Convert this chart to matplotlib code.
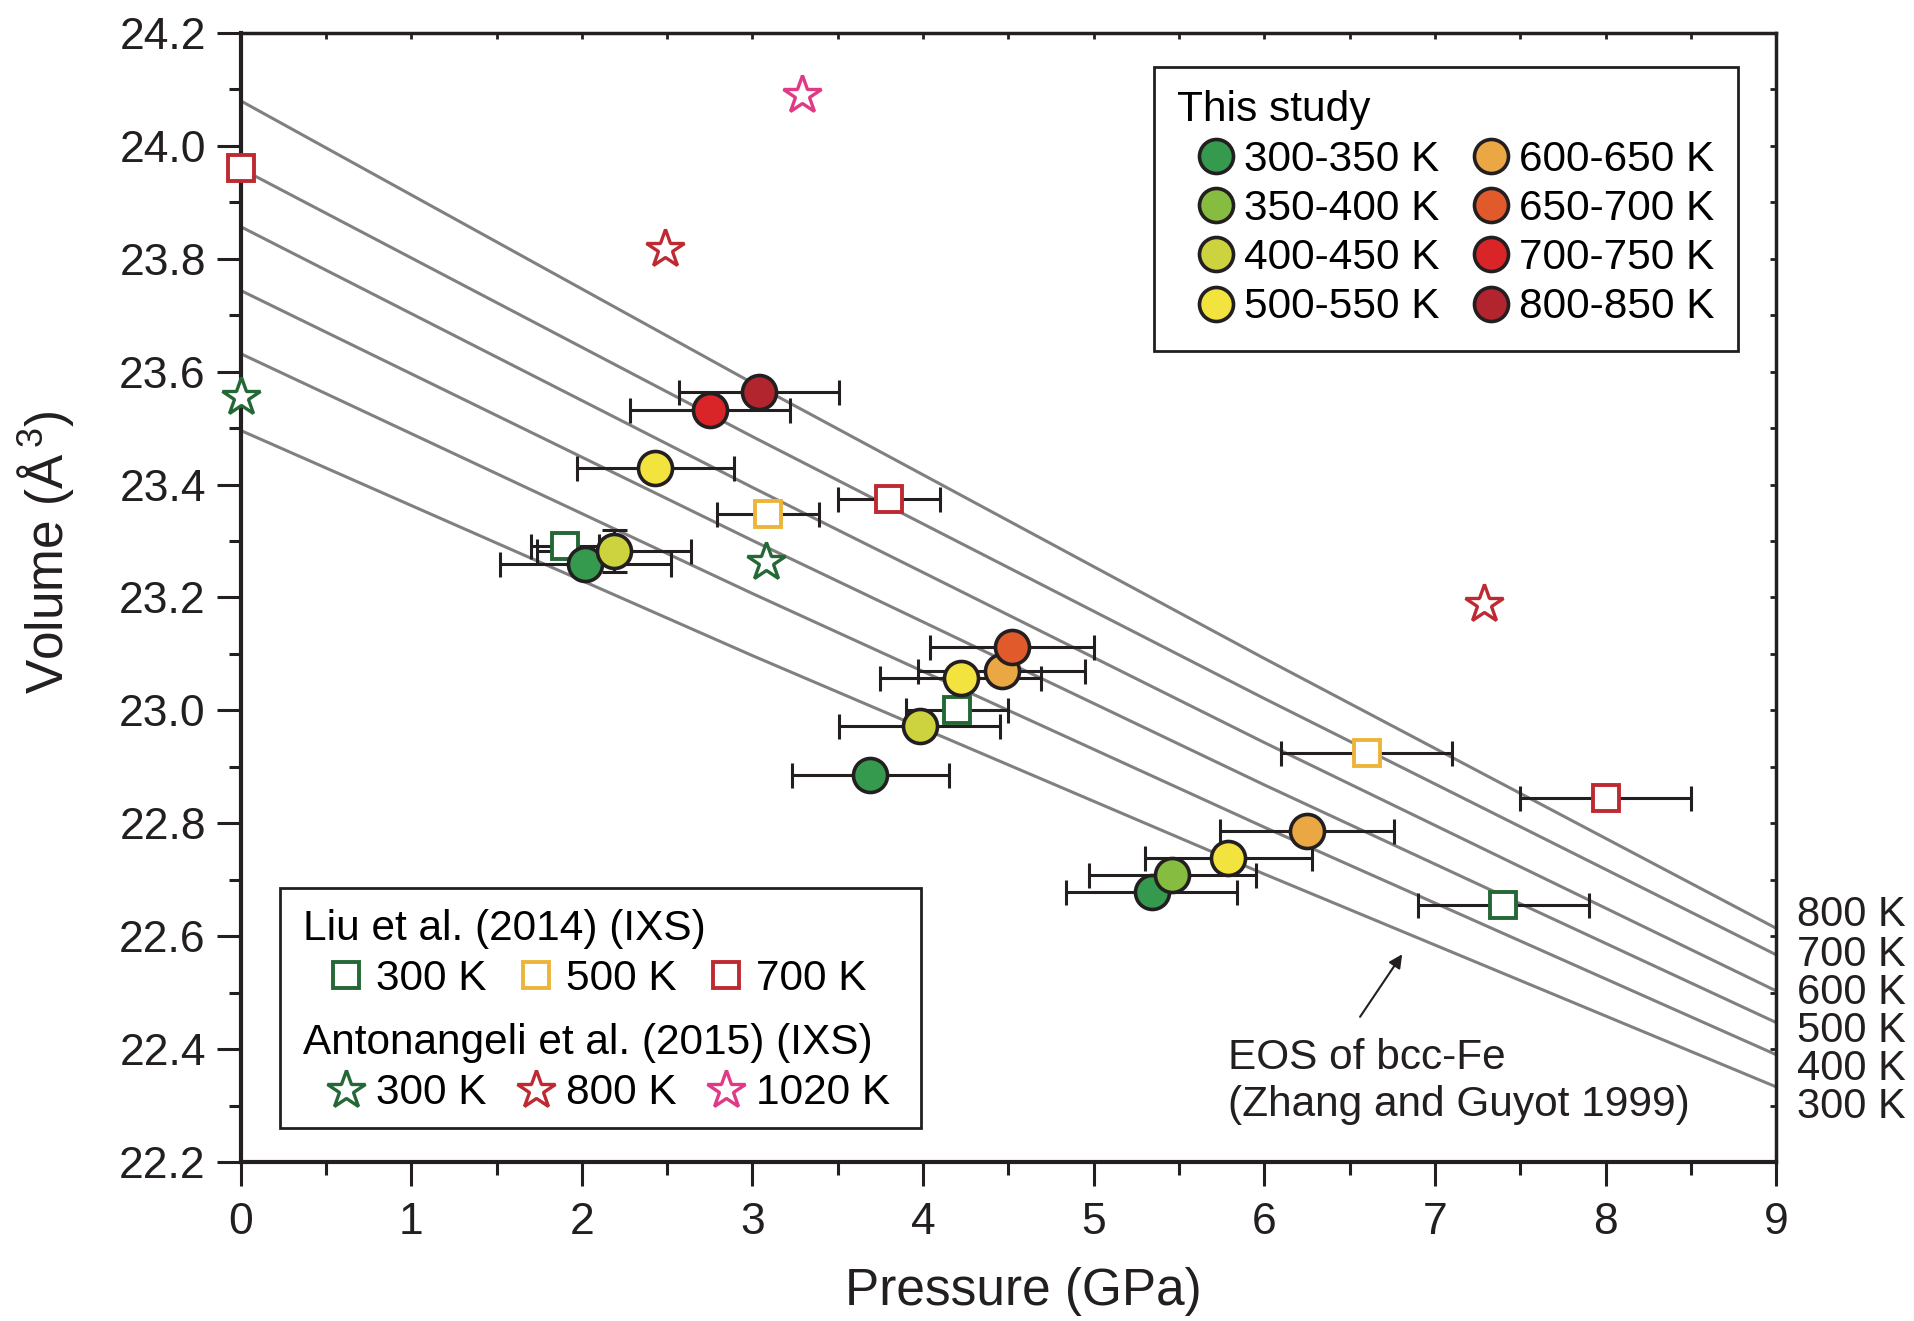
"""Volume vs pressure of bcc-Fe: this study, Liu et al. (2014), Antonangeli et al. (2015)."""

import matplotlib

matplotlib.use("Agg")
import matplotlib.pyplot as plt
from matplotlib.lines import Line2D
from matplotlib.patches import Rectangle
from matplotlib.ticker import FormatStrFormatter, MultipleLocator

plt.rcParams["font.family"] = ["Liberation Sans", "DejaVu Sans"]
plt.rcParams["mathtext.fontset"] = "custom"
plt.rcParams["mathtext.rm"] = "Liberation Sans"

INK = "#231f20"
FS = 30.5

# EOS curves of bcc-Fe (Zhang and Guyot 1999)
eos_p = [0, 3, 6, 9]
eos_labels = ["800 K", "700 K", "600 K", "500 K", "400 K", "300 K"]
eos_v800 = [24.080, 23.580, 23.092, 22.614]
eos_v700 = [23.960, 23.485, 23.021, 22.567]
eos_v600 = [23.857, 23.395, 22.943, 22.503]
eos_v500 = [23.744, 23.301, 22.868, 22.447]
eos_v400 = [23.632, 23.207, 22.793, 22.390]
eos_v300 = [23.496, 23.097, 22.710, 22.333]
eos_label_v = [22.638, 22.567, 22.500, 22.432, 22.365, 22.298]

# This study
ts_labels = ["300-350 K", "350-400 K", "400-450 K", "500-550 K",
             "600-650 K", "650-700 K", "700-750 K", "800-850 K"]
ts_colors = ["#359a4d", "#86bc40", "#cdd33e", "#f2e33f",
             "#eba744", "#e05a2b", "#d92528", "#b2252f"]
ts_p = [[2.02, 3.69, 5.34], [5.46], [2.19, 3.98], [2.43, 4.22, 5.79],
        [4.46, 6.25], [4.52], [2.75], [3.04]]
ts_v = [[23.260, 22.885, 22.678], [22.708], [23.283, 22.972], [23.430, 23.058, 22.738],
        [23.069, 22.786], [23.112], [23.532], [23.564]]
ts_perr = [[0.50, 0.46, 0.50], [0.49], [0.45, 0.47], [0.46, 0.47, 0.49],
           [0.49, 0.51], [0.48], [0.47], [0.47]]
ts_verr = [[0, 0, 0], [0], [0.037, 0], [0, 0, 0], [0, 0], [0], [0], [0]]

# Liu et al. (2014)
liu_labels = ["300 K", "500 K", "700 K"]
liu_colors = ["#246836", "#ecb43a", "#be2a32"]
liu_p = [[1.90, 4.20, 7.40], [3.09, 6.60], [0.0, 3.80, 8.00]]
liu_v = [[23.292, 23.000, 22.656], [23.348, 22.924], [23.960, 23.374, 22.844]]
liu_perr = [[0.20, 0.30, 0.50], [0.30, 0.50], [0.0, 0.30, 0.50]]

# Antonangeli et al. (2015)
ant_labels = ["300 K", "800 K", "1020 K"]
ant_colors = ["#246836", "#be2a32", "#e03a86"]
ant_p = [[0.0, 3.08], [2.49, 7.29], [3.29]]
ant_v = [[23.556, 23.262], [23.817, 23.188], [24.090]]

fig = plt.figure(figsize=(19.14, 13.21), dpi=100)
ax = fig.add_axes([0.1257, 0.1204, 0.8023, 0.8546])

for vals in [eos_v800, eos_v700, eos_v600, eos_v500, eos_v400, eos_v300]:
    ax.plot(eos_p, vals, color="#808080", lw=2.2, zorder=1)

err_kw = dict(fmt="none", ecolor=INK, elinewidth=2.2, capsize=9, capthick=2.2, zorder=2)
circ_kw = dict(ls="none", marker="o", ms=24.5, mec=INK, mew=2.6)
sq_kw = dict(ls="none", marker="s", ms=19, mfc="white", mew=2.8)
star_kw = dict(ls="none", marker="*", ms=29, mfc="white", mew=2.4)

for p, v, pe, ve, c in zip(ts_p, ts_v, ts_perr, ts_verr, ts_colors):
    ax.errorbar(p, v, xerr=pe, yerr=ve, **err_kw)
    ax.plot(p, v, mfc=c, zorder=4, **circ_kw)

for p, v, pe, c in zip(liu_p, liu_v, liu_perr, liu_colors):
    ax.errorbar(p, v, xerr=pe, **err_kw)
    ax.plot(p, v, mec=c, zorder=3, clip_on=False, **sq_kw)

for p, v, c in zip(ant_p, ant_v, ant_colors):
    ax.plot(p, v, mec=c, zorder=3, clip_on=False, **star_kw)

# temperature labels of the EOS curves, right of the frame
for lab, y in zip(eos_labels, eos_label_v):
    ax.text(9.12, y, lab, fontsize=30, ha="left", va="center", color=INK, clip_on=False)

ax.annotate("", xy=(6.817, 22.572), xytext=(6.552, 22.453),
            arrowprops=dict(arrowstyle="-|>", color=INK, lw=1.5, mutation_scale=20))
ax.text(5.79, 22.343, "EOS of bcc-Fe\n(Zhang and Guyot 1999)", fontsize=FS,
        ha="left", va="center", linespacing=1.22, color=INK)

ax.set_xlim(0, 9)
ax.set_ylim(22.2, 24.2)
ax.xaxis.set_major_locator(MultipleLocator(1))
ax.xaxis.set_minor_locator(MultipleLocator(0.5))
ax.yaxis.set_major_locator(MultipleLocator(0.2))
ax.yaxis.set_minor_locator(MultipleLocator(0.1))
ax.yaxis.set_major_formatter(FormatStrFormatter("%.1f"))
ax.tick_params(which="major", direction="out", length=17, width=2.2, labelsize=32,
               colors=INK)
ax.tick_params(axis="y", which="major", pad=8)
ax.tick_params(axis="x", which="major", pad=12)
ax.tick_params(which="minor", direction="out", length=9, width=2.2, colors=INK)
for side in ["left", "bottom"]:
    ax.spines[side].set_linewidth(3)
for side in ["top", "right"]:
    ax.spines[side].set_linewidth(2.5)
for s in ax.spines.values():
    s.set_color(INK)

secx = ax.secondary_xaxis("top")
secx.xaxis.set_major_locator(MultipleLocator(1))
secx.xaxis.set_minor_locator(MultipleLocator(0.5))
secx.tick_params(which="both", direction="in", length=4, width=2, labeltop=False, colors=INK)
secy = ax.secondary_yaxis("right")
secy.yaxis.set_major_locator(MultipleLocator(0.2))
secy.yaxis.set_minor_locator(MultipleLocator(0.1))
secy.tick_params(which="both", direction="in", length=4, width=2, labelright=False, colors=INK)

ax.set_xlabel("Pressure (GPa)", fontsize=37, color=INK)
ax.set_ylabel("Volume (Å$^{\\,3}$)", fontsize=37, color=INK)
ax.xaxis.set_label_coords(0.51, -0.1147)
ax.xaxis.label.set_va("center")
ax.yaxis.set_label_coords(-0.1273, 0.54)
ax.yaxis.label.set_va("center")

# legend: this study
ts_handles = [Line2D([], [], mfc=c, label=l, **circ_kw) for l, c in zip(ts_labels, ts_colors)]
leg1 = ax.legend(handles=ts_handles, loc="upper right", bbox_to_anchor=(0.975, 0.970),
                 ncol=2, title="This study", title_fontsize=FS, fontsize=FS,
                 alignment="left", frameon=True, fancybox=False, edgecolor=INK,
                 framealpha=1, borderpad=0.55, labelspacing=0.22, handlelength=1.84,
                 handletextpad=-0.26, columnspacing=0.3, borderaxespad=0)
leg1.get_frame().set_linewidth(2)
ax.add_artist(leg1)

# legend: literature
ax.add_patch(Rectangle((0.0258, 0.0301), 0.4176, 0.2130, transform=ax.transAxes,
                       facecolor="white", edgecolor=INK, lw=2, zorder=5))
lit_kw = dict(loc="upper left", ncol=3, title_fontsize=FS, fontsize=FS, alignment="left",
              frameon=False, borderpad=0, labelspacing=0.24, handlelength=2.02,
              handletextpad=-0.29, columnspacing=0.15, borderaxespad=0)
liu_handles = [Line2D([], [], mec=c, label=l, **sq_kw) for l, c in zip(liu_labels, liu_colors)]
leg2 = ax.legend(handles=liu_handles, bbox_to_anchor=(0.0405, 0.2245),
                 title="Liu et al. (2014) (IXS)", **lit_kw)
leg2.set_zorder(6)
ax.add_artist(leg2)
ant_handles = [Line2D([], [], mec=c, label=l, **star_kw) for l, c in zip(ant_labels, ant_colors)]
leg3 = ax.legend(handles=ant_handles, bbox_to_anchor=(0.0405, 0.1228),
                 title="Antonangeli et al. (2015) (IXS)", **lit_kw)
leg3.set_zorder(6)

fig.savefig("out.png", dpi=100)
print("Wrote out.png")
